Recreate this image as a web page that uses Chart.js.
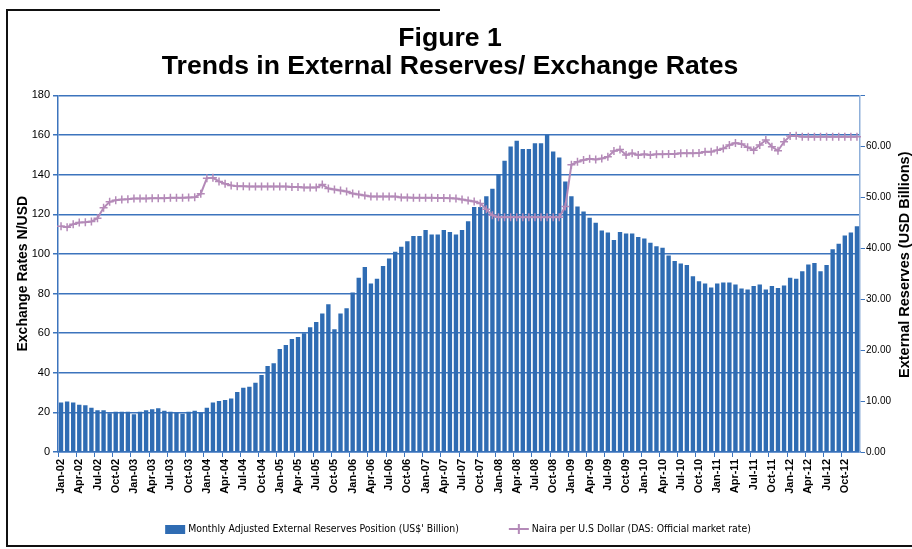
<!DOCTYPE html>
<html>
<head>
<meta charset="utf-8">
<script src="https://cdn.jsdelivr.net/npm/chart.js@4.4.1/dist/chart.umd.min.js"></script>
<style>
  html, body { margin: 0; padding: 0; background: #fff; }
</style>
</head>
<body>
<canvas id="reservesChart" width="912" height="549"></canvas>
<script>
// month labels Jan-02 .. Dec-12
const years = ["02", "03", "04", "05", "06", "07", "08", "09", "10", "11", "12"];
const months = ["Jan", "Feb", "Mar", "Apr", "May", "Jun", "Jul", "Aug", "Sep", "Oct", "Nov", "Dec"];
const monthLabels = [];
years.forEach(y => months.forEach(m => monthLabels.push(m + "-" + y)));

// US$ billion (right axis)
const reserves = [
  9.7, 9.9, 9.7, 9.3, 9.2, 8.7, 8.2, 8.2, 7.6, 7.9, 7.9, 7.9,
  7.4, 7.9, 8.2, 8.4, 8.6, 8.1, 7.9, 7.7, 7.5, 7.9, 8.1, 7.7,
  8.7, 9.7, 10.0, 10.2, 10.5, 11.8, 12.6, 12.8, 13.6, 15.1, 16.9, 17.4,
  20.2, 21.0, 22.2, 22.6, 23.3, 24.5, 25.5, 27.2, 29.0, 24.1, 27.2, 28.2,
  31.3, 34.2, 36.3, 33.1, 34.0, 36.5, 38.0, 39.3, 40.3, 41.4, 42.4, 42.4,
  43.6, 42.7, 42.7, 43.6, 43.2, 42.7, 43.6, 45.3, 48.1, 48.1, 50.2, 51.7,
  54.6, 57.2, 60.0, 61.1, 59.5, 59.5, 60.6, 60.6, 62.3, 59.0, 57.8, 53.1,
  50.2, 48.2, 47.2, 46.0, 45.0, 43.5, 43.1, 41.6, 43.2, 42.9, 42.9, 42.2,
  41.9, 41.1, 40.4, 40.1, 38.6, 37.5, 37.0, 36.7, 34.5, 33.5, 33.1, 32.3,
  33.1, 33.3, 33.3, 32.9, 32.1, 31.9, 32.6, 32.9, 31.9, 32.6, 32.2, 32.7,
  34.2, 34.0, 35.5, 36.8, 37.1, 35.5, 36.7, 39.8, 40.9, 42.5, 43.1, 44.3
];

// naira per US dollar (left axis)
const nairaRate = [
  114, 113.5, 115, 115.9, 116, 116.4, 118, 123.3, 126.3, 127.1, 127.5, 127.6,
  128, 128, 128, 128.1, 128.1, 128.1, 128.3, 128.4, 128.4, 128.5, 128.6, 130.4,
  138.2, 138.4, 136.6, 135.4, 134.6, 134.1, 134.1, 134, 134, 134, 134, 134,
  134, 134, 133.8, 133.8, 133.5, 133.5, 133.5, 135, 133, 132.5, 132, 131.5,
  130.5, 130, 129.5, 129, 129, 129, 129, 129, 128.5, 128.5, 128.4, 128.4,
  128.3, 128.3, 128.2, 128.2, 128.1, 128, 127.5, 127, 126.5, 125.5, 122.5, 119.5,
  118.5, 118.5, 118.5, 118.5, 118.5, 118.5, 118.5, 118.5, 118.5, 118.5, 118.5, 124,
  145, 146.5, 147.4, 148, 147.7, 148.2, 149, 152, 152.7, 150, 150.8, 150,
  150.3, 150, 150.3, 150.3, 150.4, 150.4, 150.8, 150.8, 150.8, 151, 151.6, 151.6,
  152.4, 153.2, 155, 156, 155.5, 153.8, 152.4, 155, 157.5, 154.1, 152.1, 156.6,
  159.5, 159.7, 159.2, 159.2, 159.2, 159.2, 159.2, 159.2, 159.2, 159.2, 159.2, 159.2
];

const barColor = "#2f6cb3";
const lineColor = "#b48ab8";
const gridBlue = "#3c74bd";
const edgeBlue = "#8fb0da";
const narrowFont = "'DejaVu Sans Condensed', 'Liberation Sans Narrow', sans-serif";
const mainFont = "'Liberation Sans', Arial, sans-serif";

Chart.defaults.font.family = mainFont;
Chart.defaults.color = "#000";

// white page + scanned frame
const framePlugin = {
  id: "frame",
  beforeDraw(chart) {
    const c = chart.ctx;
    c.save();
    c.fillStyle = "#fff";
    c.fillRect(0, 0, chart.width, chart.height);
    c.restore();
  },
  afterDraw(chart) {
    const c = chart.ctx;
    c.save();
    c.strokeStyle = "#111";
    c.lineWidth = 2;
    c.beginPath();
    c.moveTo(440, 10);
    c.lineTo(7, 10);
    c.lineTo(7, 546);
    c.lineTo(912, 546);
    c.stroke();
    c.restore();
  }
};

// right axis title reads bottom-to-top like the left one
const rightTitlePlugin = {
  id: "rightTitle",
  afterDraw(chart) {
    const a = chart.chartArea;
    const c = chart.ctx;
    c.save();
    c.translate(905, (a.top + a.bottom) / 2 - 9);
    c.rotate(-Math.PI / 2);
    c.font = "bold 14.5px " + mainFont;
    c.fillStyle = "#000";
    c.textAlign = "center";
    c.textBaseline = "middle";
    c.fillText("External Reserves (USD Billions)", 0, 0);
    c.restore();
  }
};

// bottom legend with a wide gap between the two entries
const legendPlugin = {
  id: "bottomLegend",
  afterDraw(chart) {
    const c = chart.ctx;
    const t1 = chart.data.datasets[1].label;
    const t2 = chart.data.datasets[0].label;
    c.save();
    c.font = "10.4px " + narrowFont;
    const w1 = 23 + c.measureText(t1).width;
    const w2 = 23 + c.measureText(t2).width;
    const gap = 50;
    let x = 458 - (w1 + gap + w2) / 2;
    const y = 529;
    c.fillStyle = barColor;
    c.fillRect(x, y - 4, 20, 9);
    c.fillStyle = "#000";
    c.textBaseline = "middle";
    c.fillText(t1, x + 23, y);
    x += w1 + gap;
    c.strokeStyle = lineColor;
    c.lineWidth = 2;
    c.beginPath();
    c.moveTo(x, y);
    c.lineTo(x + 20, y);
    c.moveTo(x + 10, y - 5);
    c.lineTo(x + 10, y + 5);
    c.stroke();
    c.fillText(t2, x + 23, y);
    c.restore();
  }
};

const ctx = document.getElementById("reservesChart").getContext("2d");

new Chart(ctx, {
  type: "bar",
  data: {
    labels: monthLabels,
    datasets: [
      {
        type: "line",
        label: "Naira per U.S Dollar (DAS: Official market rate)",
        data: nairaRate,
        yAxisID: "y",
        borderColor: lineColor,
        backgroundColor: lineColor,
        borderWidth: 2,
        pointStyle: "cross",
        pointRadius: 4,
        pointBorderWidth: 1.5,
        tension: 0,
        order: 0
      },
      {
        label: "Monthly Adjusted External Reserves Position (US$' Billion)",
        data: reserves,
        yAxisID: "y1",
        backgroundColor: barColor,
        barPercentage: 0.72,
        categoryPercentage: 1,
        order: 1
      }
    ]
  },
  options: {
    responsive: false,
    animation: false,
    devicePixelRatio: 1,
    layout: { padding: { top: 16, left: 8, right: 20, bottom: 39 } },
    plugins: {
      legend: { display: false },
      tooltip: { enabled: false },
      title: {
        display: true,
        text: ["Figure 1", "Trends in External Reserves/ Exchange Rates"],
        font: { size: 26.6, weight: "bold", lineHeight: 1.08 },
        color: "#000",
        padding: { top: 8, bottom: 14 }
      }
    },
    scales: {
      x: {
        grid: {
          offset: true,
          drawOnChartArea: false,
          tickLength: 5,
          color: (c) => (c.index % 3 === 0 ? gridBlue : "transparent")
        },
        border: { color: gridBlue, width: 1.5 },
        ticks: {
          autoSkip: false,
          minRotation: 90,
          maxRotation: 90,
          padding: 2,
          font: { size: 11, weight: "bold" },
          callback: (v, i) => (i % 3 === 0 ? monthLabels[i] : "")
        },
        afterFit: (s) => { s.height = 58; }
      },
      y: {
        position: "left",
        min: 0,
        max: 180,
        ticks: { stepSize: 20, padding: 3, font: { size: 11 } },
        grid: { color: gridBlue, lineWidth: 1.5, tickLength: 5 },
        border: { color: gridBlue, width: 1.5 },
        title: {
          display: true,
          text: "Exchange Rates N/USD",
          font: { size: 14, weight: "bold" },
          padding: { top: 7, bottom: 0 }
        },
        afterFit: (s) => { s.width = 50; }
      },
      y1: {
        position: "right",
        min: 0,
        max: 70,
        ticks: {
          stepSize: 10,
          padding: 1,
          font: { size: 10 },
          callback: (v) => (v === 70 ? "" : v.toFixed(2))
        },
        grid: { drawOnChartArea: false, color: gridBlue, tickLength: 5 },
        border: { color: edgeBlue, width: 1.5 },
        afterFit: (s) => { s.width = 32; }
      }
    }
  },
  plugins: [framePlugin, rightTitlePlugin, legendPlugin]
});
</script>
</body>
</html>
